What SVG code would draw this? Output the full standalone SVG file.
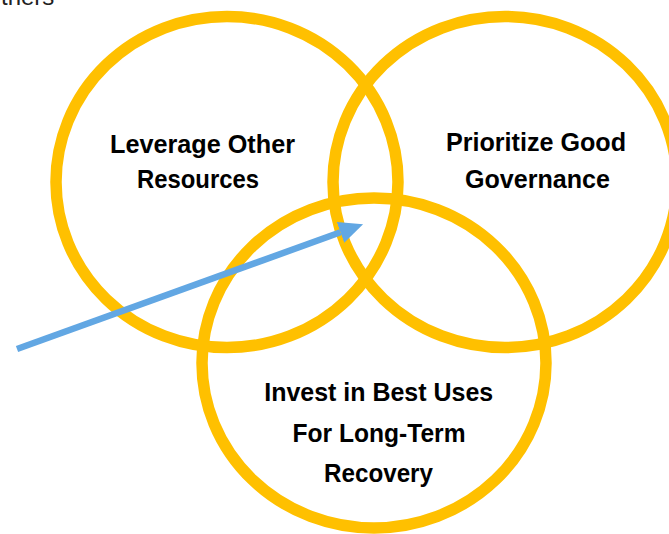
<svg xmlns="http://www.w3.org/2000/svg" width="669" height="534" viewBox="0 0 669 534">
  <style>
    .ring { fill: none; stroke: #FFC000; stroke-width: 11.5; }
    .lbl { font-family: "Liberation Sans", Arial, sans-serif; font-weight: bold; font-size: 25px; fill: #000; text-anchor: middle; }
    .conn { stroke: #62A7E3; stroke-width: 6.5; fill: none; stroke-linecap: butt; }
    .note { font-family: "Liberation Sans", Arial, sans-serif; font-size: 24px; fill: #222; }
  </style>
  <defs>
    <marker id="arrow" viewBox="0 0 24 22" refX="0" refY="11" markerWidth="24" markerHeight="22" markerUnits="userSpaceOnUse" orient="auto">
      <path d="M0,0 L24,11 L0,22 z" fill="#62A7E3"/>
    </marker>
  </defs>
  <rect width="669" height="534" fill="#fff"/>
  <text class="note" x="1" y="4.5">thers</text>
  <g id="node-leverage">
    <ellipse class="ring" cx="227" cy="182" rx="171" ry="165.5"/>
    <text class="lbl" x="202.5" y="152.5" textLength="185" lengthAdjust="spacingAndGlyphs">Leverage Other</text>
    <text class="lbl" x="198" y="188" textLength="122" lengthAdjust="spacingAndGlyphs">Resources</text>
  </g>
  <g id="node-governance">
    <ellipse class="ring" cx="505" cy="182" rx="172" ry="165.5"/>
    <text class="lbl" x="536" y="150.5" textLength="180" lengthAdjust="spacingAndGlyphs">Prioritize Good</text>
    <text class="lbl" x="537.5" y="188" textLength="145" lengthAdjust="spacingAndGlyphs">Governance</text>
  </g>
  <g id="node-invest">
    <ellipse class="ring" cx="374" cy="363" rx="172" ry="165"/>
    <text class="lbl" x="378.7" y="401" textLength="229" lengthAdjust="spacingAndGlyphs">Invest in Best Uses</text>
    <text class="lbl" x="379" y="441.5" textLength="173" lengthAdjust="spacingAndGlyphs">For Long-Term</text>
    <text class="lbl" x="378.5" y="481.5" textLength="109" lengthAdjust="spacingAndGlyphs">Recovery</text>
  </g>
  <g id="connectors">
    <line class="conn" x1="17" y1="349" x2="340.5" y2="232.3" marker-end="url(#arrow)"/>
  </g>
</svg>
